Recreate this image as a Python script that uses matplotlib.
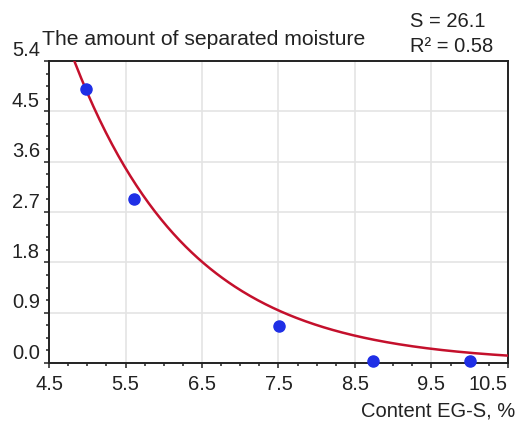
import numpy as np
import matplotlib
matplotlib.use("Agg")
import matplotlib.pyplot as plt
from matplotlib.ticker import MultipleLocator, FixedLocator
from matplotlib.transforms import ScaledTranslation

plt.rcParams['font.family'] = ['Liberation Sans', 'DejaVu Sans']

# measured points
content = [4.98, 5.61, 7.51, 8.74, 10.0]
moisture = [4.9, 2.93, 0.66, 0.03, 0.03]

# exponential trend y = fit_a * exp(-fit_b * (x - fit_x0))
fit_a = 1.81
fit_b = 0.655
fit_x0 = 6.5

x_ticks = [4.5, 5.5, 6.5, 7.5, 8.5, 9.5, 10.5]
y_ticks = [0.0, 0.9, 1.8, 2.7, 3.6, 4.5, 5.4]

title = "The amount of separated moisture"
stat_s = "S = 26.1"
stat_r2 = "R\u00b2 = 0.58"
x_label = "Content EG-S, %"

fig = plt.figure(figsize=(5.19, 4.23), dpi=100)
ax = fig.add_axes([49 / 519, 1 - 363 / 423, 459 / 519, 302 / 423])

xs = np.linspace(4.5, 10.5, 300)
ax.plot(xs, fit_a * np.exp(-fit_b * (xs - fit_x0)), color='#c4102c', lw=1.8, zorder=3)
ax.plot(content, moisture, 'o', color='#1f2fe6', ms=8, zorder=4, clip_on=False)

ax.set_xlim(4.5, 10.5)
ax.set_ylim(0, 5.4)
ax.xaxis.set_major_locator(FixedLocator(x_ticks))
ax.yaxis.set_major_locator(FixedLocator(y_ticks))
ax.xaxis.set_minor_locator(MultipleLocator(0.25))
ax.yaxis.set_minor_locator(MultipleLocator(0.225))
ax.set_xticklabels([f"{v:.1f}" for v in x_ticks])
ax.set_yticklabels([f"{v:.1f}" for v in y_ticks])

ax.grid(True, which='major', color='#e4e4e4', lw=1.2)
ax.set_axisbelow(True)
ax.tick_params(which='major', direction='out', length=3.5, width=1.2, color='#333333',
               labelsize=14.5)
ax.tick_params(which='minor', direction='out', length=2.5, width=1.2, color='#333333')
ax.tick_params(axis='x', which='major', pad=5)
ax.tick_params(axis='y', which='major', pad=3)
for sp in ax.spines.values():
    sp.set_color('#222222')
    sp.set_linewidth(1.4)

# labels in the original sit a bit above their gridlines
shift = ScaledTranslation(0, 12 / 100, fig.dpi_scale_trans)
for lab in ax.get_yticklabels():
    lab.set_transform(lab.get_transform() + shift)
ax.get_xticklabels()[-1].set_ha('right')
ax.get_xticklabels()[-1].set_x(10.53)

for lab in ax.get_xticklabels() + ax.get_yticklabels():
    lab.set_color('#222222')

fig.text(42 / 519, 1 - 45 / 423, title, fontsize=15.2, va='baseline', color='#222222')
fig.text(410 / 519, 1 - 27 / 423, stat_s, fontsize=14.5, va='baseline', color='#222222')
fig.text(410 / 519, 1 - 52 / 423, stat_r2, fontsize=14.5, va='baseline', color='#222222')
fig.text(515 / 519, 1 - 416 / 423, x_label, fontsize=14.5, ha='right', va='baseline',
         color='#222222')

fig.savefig("out.png", dpi=100)
